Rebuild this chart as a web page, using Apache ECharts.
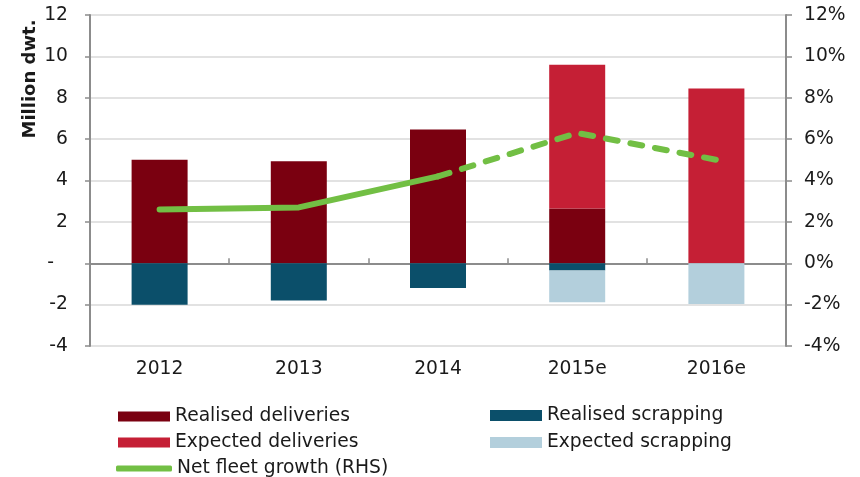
<!DOCTYPE html>
<html>
<head>
<meta charset="utf-8">
<script src="https://cdn.jsdelivr.net/npm/echarts@6/dist/echarts.min.js"></script>
<style>
  html, body { margin: 0; padding: 0; background: #fff; }
  #main { width: 860px; height: 477px; }
</style>
</head>
<body>
<div id="main"></div>
<script>
// chart data
const years = ['2012', '2013', '2014', '2015e', '2016e'];
const realisedDeliveries = [5.0, 4.93, 6.47, 2.65, null];
const expectedDeliveries = [null, null, null, 6.95, 8.45];
const realisedScrapping = [-2.0, -1.8, -1.2, -0.35, null];
const expectedScrapping = [null, null, null, -1.53, -1.97];
const growthRealised = [2.6, 2.7, 4.2, null, null];
const growthExpected = [null, null, 4.2, 6.3, 5.0];

const font = 'DejaVu Sans';
const txt = '#1a1a1a';
const fs = 18.7; // 14pt

const chart = echarts.init(document.getElementById('main'), null, { renderer: 'canvas' });

function bar(name, data, color) {
  return {
    name: name, type: 'bar', stack: 'a', data: data,
    barWidth: 56, xAxisIndex: 0, yAxisIndex: 0,
    itemStyle: { color: color }
  };
}

// one legend per entry so the two columns sit where the reference has them
function legendItem(name, left, top, w, h, icon) {
  return {
    left: left, top: top, itemWidth: w, itemHeight: h, icon: icon || 'rect',
    itemGap: 0, padding: 0,
    textStyle: { color: txt, fontSize: fs, fontFamily: font, padding: [1, 0, 0, 0] },
    data: [name]
  };
}

const option = {
  animation: false,
  textStyle: { fontFamily: font },
  grid: { left: 90, right: 74, top: 15, bottom: 131 },
  xAxis: [
    {
      type: 'category', data: years, position: 'bottom',
      axisLine: { show: false, onZero: false }, axisTick: { show: false },
      axisLabel: { color: txt, fontSize: fs, fontFamily: font, margin: 14 }
    },
    {
      type: 'category', data: years,
      axisLine: { onZero: true, lineStyle: { color: '#8c8c8c', width: 2 } },
      axisTick: { show: true, length: 5, lineStyle: { color: '#8c8c8c', width: 1.5 } },
      axisLabel: { show: false }
    }
  ],
  yAxis: [
    {
      type: 'value', min: -4, max: 12, interval: 2,
      axisLine: { show: true, lineStyle: { color: '#8c8c8c', width: 2 } },
      axisTick: { show: true, length: 5, lineStyle: { color: '#8c8c8c', width: 1.5 } },
      splitLine: { lineStyle: { color: '#d9d9d9', width: 1.5 } },
      axisLabel: {
        color: txt, fontSize: fs, fontFamily: font, margin: 22,
        formatter: v => v === 0 ? '{z|-}' : String(v),
        rich: { z: { color: txt, fontSize: fs, fontFamily: font, padding: [0, 14, 0, 0] } }
      }
    },
    {
      type: 'value', min: -4, max: 12, interval: 2, position: 'right',
      axisLine: { show: true, lineStyle: { color: '#8c8c8c', width: 2 } },
      axisTick: { show: true, length: 6, lineStyle: { color: '#8c8c8c', width: 1.5 } },
      splitLine: { show: false },
      axisLabel: { color: txt, fontSize: fs, fontFamily: font, margin: 18, formatter: '{value}%' }
    }
  ],
  legend: [
    legendItem('Realised deliveries', 118, 407, 52, 10),
    legendItem('Expected deliveries', 118, 433, 52, 10),
    legendItem('Net fleet growth (RHS)', 116, 459, 56, 6, 'roundRect'),
    legendItem('Realised scrapping', 490, 406, 52, 11),
    legendItem('Expected scrapping', 490, 433, 52, 11)
  ],
  graphic: [
    {
      type: 'text', x: 30, y: 79, rotation: Math.PI / 2,
      style: {
        text: 'Million dwt.', fill: txt, font: 'bold 18px "DejaVu Sans"',
        textAlign: 'center', textVerticalAlign: 'middle'
      }
    }
  ],
  series: [
    bar('Realised deliveries', realisedDeliveries, '#7a0010'),
    bar('Expected deliveries', expectedDeliveries, '#c51f35'),
    bar('Realised scrapping', realisedScrapping, '#0b4f6a'),
    bar('Expected scrapping', expectedScrapping, '#b3cfdc'),
    {
      name: 'Net fleet growth (RHS)', type: 'line', data: growthRealised,
      yAxisIndex: 1, symbol: 'none', z: 5,
      lineStyle: { color: '#72bf44', width: 6, cap: 'round' },
      itemStyle: { color: '#72bf44' }
    },
    {
      name: 'Net fleet growth (RHS)', type: 'line', data: growthExpected,
      yAxisIndex: 1, symbol: 'none', z: 5,
      lineStyle: { color: '#72bf44', width: 6, type: [12, 13], cap: 'round' },
      itemStyle: { color: '#72bf44' }
    }
  ]
};

chart.setOption(option);
</script>
</body>
</html>
